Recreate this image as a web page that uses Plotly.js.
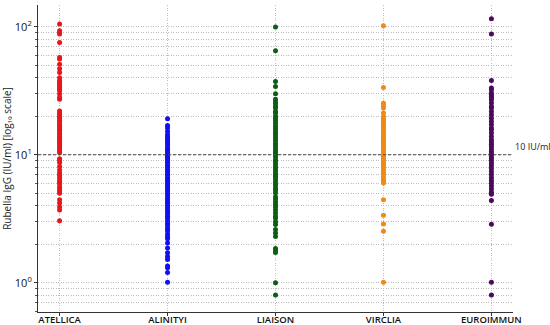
<!DOCTYPE html>
<html>
<head>
<meta charset="utf-8">
<script src="https://cdn.plot.ly/plotly-3.0.1.min.js"></script>
<style>html,body{margin:0;padding:0;background:#fff}#chart{width:550px;height:325px}</style>
</head>
<body>
<div id="chart"></div>
<script>
const categories = ["ATELLICA", "ALINITYI", "LIAISON", "VIRCLIA", "EUROIMMUN"];
const colors = ["#e8161b", "#1010f0", "#0b5e12", "#f08a12", "#4b0a5c"];

const atellica = [105, 93, 90, 87.7, 75.4, 57.5, 56, 51, 47, 44, 40, 37.8, 36.7, 35.7, 34.6, 33.5, 32.6, 31.6, 29.8, 28, 27.2,
  22, 21.2, 20.5, 19.8, 19.2, 18.6, 18, 17.4, 16.9, 16.3, 15.8, 15.3, 14.8, 14.3, 13.8, 13.4, 13, 12.6, 12.2, 11.8, 11.4, 11.1, 10.7, 10.4,
  9.3, 9.1, 8.7, 8.1, 7.6, 7.2, 6.9, 6.6, 6.3, 6.1, 5.9, 5.6, 5.4, 5.2, 5.0, 4.45, 4.2, 3.9, 3.7, 3.05];
const alinityi = [19.1, 16.9, 16.2, 15.2, 14.3, 13.8, 13.3, 12.9, 12.4, 12.0, 11.5, 11.1, 10.8, 10.4, 10.0, 9.7, 9.4, 9.1, 8.8, 8.5,
  8.2, 7.9, 7.6, 7.4, 7.1, 6.9, 6.6, 6.4, 6.2, 6.0, 5.8, 5.6, 5.4, 5.2, 5.0, 4.8, 4.6, 4.45, 4.3, 4.15, 4.0, 3.85, 3.7, 3.6, 3.45,
  3.3, 3.2, 3.05, 2.9, 2.8, 2.65, 2.55, 2.4, 2.3, 2.2, 2.04, 1.87, 1.71, 1.6, 1.52, 1.35, 1.31, 1.2, 1.01];
const liaison = [99.5, 65, 37.4, 34.2, 30, 27.2, 26, 25, 23.8, 23.2, 21.8, 21.2, 20, 19.2, 18.4, 17.6, 16.8, 16.1, 15.4, 14.7, 14.1,
  13.5, 12.9, 12.3, 11.8, 11.3, 10.8, 10.4, 10.0, 9.6, 9.1, 8.9, 8.5, 8.1, 7.8, 7.5, 7.2, 6.9, 6.7, 6.4, 6.1, 5.8, 5.5, 5.3, 5.05,
  4.7, 4.5, 4.3, 4.1, 3.9, 3.7, 3.5, 3.3, 3.2, 3.0, 2.85, 2.6, 2.45, 2.3, 1.85, 1.78, 1.72, 1.0, 0.8];
const virclia = [102, 33.6, 25.3, 24, 23.2, 21.2, 19.9, 19.3, 18.6, 18.0, 17.4, 16.8, 16.2, 15.6, 15.1, 14.6, 14.1, 13.6, 13.1, 12.7,
  12.3, 11.9, 11.5, 11.1, 10.7, 10.4, 10.0, 9.7, 9.4, 9.1, 8.8, 8.5, 8.2, 7.9, 7.6, 7.3, 7.0, 6.7, 6.4, 6.2, 6.0, 4.45, 3.36, 2.88, 2.52, 1.01];
const euroimmun = [115.5, 87.7, 38, 33.2, 32.2, 30.4, 29.4, 28.5, 27.7, 26.9, 25.4, 23.8, 23.2, 21.8, 20.5, 19.3, 18.2, 17.2, 16.2, 15.7,
  14.8, 13.9, 13.1, 12.6, 12.1, 11.6, 11.1, 10.6, 10.2, 9.8, 9.4, 9.0, 8.6, 8.2, 7.8, 7.4, 7.0, 6.6, 6.3, 6.0, 5.7, 5.4, 5.1, 4.9,
  4.39, 2.86, 1.01, 0.80];

const seriesValues = [atellica, alinityi, liaison, virclia, euroimmun];
const thresholdValue = 10;
const thresholdLabel = "10 IU/ml";
const majorTicks = [1, 10, 100];
const majorTickText = ["10<sup>0</sup>", "10<sup>1</sup>", "10<sup>2</sup>"];
const minorTicks = [0.6, 0.7, 0.8, 0.9, 2, 3, 4, 5, 6, 7, 8, 9, 20, 30, 40, 50, 60, 70, 80, 90];

const traces = categories.map((c, i) => ({
  type: "scatter",
  mode: "markers",
  x: seriesValues[i].map(() => c),
  y: seriesValues[i],
  marker: { color: colors[i], size: 5, line: { width: 0 } },
  showlegend: false,
  hoverinfo: "y"
}));

const grid = "#bdbdbd";
const dotted = "1px,1.5px";
const layout = {
  width: 550, height: 325,
  margin: { l: 38, r: 37, t: 5, b: 13 },
  paper_bgcolor: "#fff", plot_bgcolor: "#fff",
  font: { family: "Open Sans, DejaVu Sans, sans-serif", color: "#222" },
  showlegend: false,
  xaxis: {
    type: "category",
    categoryorder: "array", categoryarray: categories,
    range: [-0.2, 4.2],
    showline: true, linecolor: "#333", linewidth: 1,
    ticks: "outside", ticklen: 3, tickcolor: "#333",
    ticklabelstandoff: -4,
    showgrid: true, gridcolor: grid, griddash: dotted, gridwidth: 1,
    tickfont: { size: 9.5, color: "#111", family: "Open Sans, sans-serif", weight: 600 },
    automargin: false, zeroline: false
  },
  yaxis: {
    type: "log",
    range: [Math.log10(0.59), Math.log10(148)],
    tickmode: "array", tickvals: majorTicks, ticktext: majorTickText,
    showline: true, linecolor: "#333", linewidth: 1,
    ticks: "outside", ticklen: 3, tickcolor: "#333",
    showgrid: true, gridcolor: grid, griddash: dotted, gridwidth: 1,
    minor: { tickmode: "array", tickvals: minorTicks, ticks: "outside", ticklen: 2, tickcolor: "#555",
             showgrid: true, gridcolor: grid, griddash: dotted, gridwidth: 1 },
    tickfont: { size: 11, color: "#111" },
    title: { text: "Rubella IgG (IU/ml) [log₁₀ scale]", font: { size: 10, color: "#222" }, standoff: 6 },
    automargin: false, zeroline: false
  },
  shapes: [{
    type: "line", xref: "paper", x0: 0, x1: 1, yref: "y", y0: thresholdValue, y1: thresholdValue,
    line: { color: "#444", width: 1.2, dash: "3px,2px" }, layer: "above"
  }],
  annotations: [{
    xref: "paper", x: 1, xanchor: "left", xshift: 0, yref: "y", y: Math.log10(thresholdValue),
    yanchor: "bottom", text: thresholdLabel, showarrow: false,
    font: { size: 9, color: "#222" }
  }]
};

Plotly.newPlot("chart", traces, layout, { staticPlot: true, displayModeBar: false });
</script>
</body>
</html>
